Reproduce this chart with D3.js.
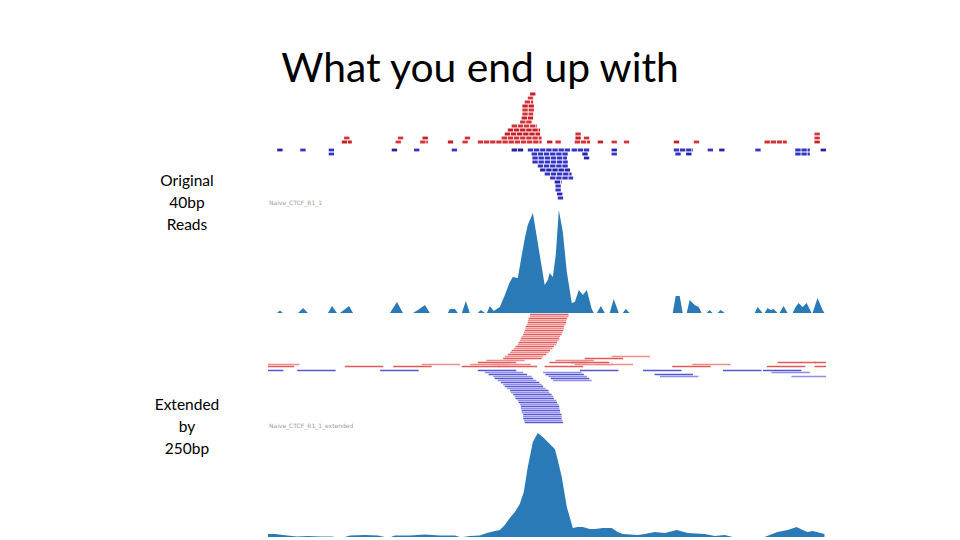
<!DOCTYPE html>
<html>
<head>
<meta charset="utf-8">
<script src="https://cdn.jsdelivr.net/npm/d3@7"></script>
<style>
  body { margin: 0; background: #fff; }
  svg { display: block; }
  .title { font-family: Lato, "Open Sans", sans-serif; font-size: 40.8px; fill: #000; }
  .side { font-family: Lato, "Open Sans", sans-serif; font-size: 15.5px; fill: #000; }
  .trackname { font-family: "DejaVu Sans", sans-serif; font-size: 6px; fill: #9a9a9a; }
  .coverage { fill: #2a7ab8; }
</style>
</head>
<body>
<div id="chart"></div>
<script>
// Genome browser snapshot: 40bp reads vs reads extended to 250bp
// positions are bp from the left edge of the window

var windowBp = [0, 3630];

var titleText = "What you end up with";
var sideLabels = [
    ["Original", "40bp", "Reads"],
    ["Extended", "by", "250bp"]
];
var trackNames = ["Naive_CTCF_R1_1", "Naive_CTCF_R1_1_extended"];

var readLen = 40;
var extLen = 250;

// original reads, packed runs [start, end, row]
var fwdRuns = [
    [480, 545, 0], [830, 870, 0], [990, 1040, 0], [1170, 1210, 0], [1265, 1300, 0],
    [1365, 1780, 0], [1815, 1855, 0], [1870, 1910, 0], [1995, 2095, 0], [2145, 2180, 0],
    [2235, 2270, 0], [2315, 2350, 0], [2640, 2675, 0], [2770, 2805, 0], [3230, 3375, 0],
    [3555, 3590, 0],
    [495, 535, 1], [845, 880, 1], [1005, 1040, 1], [1280, 1320, 1], [1520, 1780, 1],
    [2000, 2040, 1], [2055, 2095, 1], [3555, 3590, 1],
    [1540, 1770, 2], [2000, 2040, 2], [3555, 3590, 2],
    [1560, 1770, 3], [1585, 1750, 4], [1640, 1720, 5], [1650, 1725, 6], [1655, 1725, 7],
    [1655, 1735, 8], [1655, 1735, 9], [1670, 1725, 10], [1690, 1725, 11], [1705, 1745, 12]
];
var revRuns = [
    [60, 95, 0], [210, 245, 0], [395, 430, 0], [805, 840, 0], [950, 985, 0], [1195, 1230, 0],
    [1585, 1660, 0], [1690, 1965, 0], [1975, 2095, 0], [2235, 2270, 0], [2640, 2765, 0],
    [2860, 2895, 0], [2935, 2970, 0], [3170, 3205, 0], [3430, 3525, 0], [3595, 3630, 0],
    [395, 430, 1], [1715, 1950, 1], [2045, 2085, 1], [2235, 2270, 1], [2650, 2690, 1],
    [2720, 2760, 1], [3430, 3525, 1],
    [1720, 1945, 2], [2055, 2095, 2],
    [1720, 1950, 3], [1755, 1950, 4], [1770, 1965, 5], [1800, 1975, 6], [1835, 1985, 7],
    [1865, 1910, 8], [1870, 1910, 9], [1870, 1910, 10], [1880, 1920, 11], [1885, 1925, 12]
];

// extended reads [start, row]
var fwdExt = [
    [-80, 0], [-45, 1], [500, 0], [815, 0], [1000, 1], [1260, 0], [1315, 1],
    [1365, 2], [1420, 3], [1460, 1], [1500, 0], [1800, 0], [1830, 2], [1870, 3],
    [1970, 2], [1995, 1], [2060, 4], [2125, 1], [2235, 5],
    [2630, 0], [2760, 1], [3245, 0], [3315, 2], [3555, 0], [3555, 2],
    [1530, 4], [1540, 5], [1560, 6], [1575, 7], [1585, 8], [1600, 9], [1610, 10],
    [1625, 11], [1630, 12], [1640, 13], [1645, 14], [1650, 15], [1660, 16], [1665, 17],
    [1670, 18], [1675, 19], [1675, 20], [1685, 21], [1690, 22], [1690, 23], [1695, 24],
    [1705, 25], [1705, 26]
];
var revExt = [
    [-150, 0], [190, 0], [730, 0],
    [1365, 0], [1410, 1], [1435, 2], [1465, 3], [1475, 4], [1495, 5], [1515, 6],
    [1530, 7], [1540, 8], [1555, 9], [1575, 10], [1580, 11], [1595, 12], [1605, 13],
    [1610, 14], [1625, 15], [1630, 16], [1640, 17], [1645, 18], [1645, 19], [1650, 20],
    [1650, 21], [1660, 22], [1660, 23], [1660, 24], [1665, 25], [1670, 26],
    [1790, 1], [1805, 2], [1825, 3], [1840, 4], [1855, 5],
    [2030, 0], [2440, 0], [2515, 2], [2550, 3], [2960, 0], [3220, 0], [3275, 1], [3405, 3]
];

// coverage [bp, depth]
var covOrig = [
    [58, 0], [78, 1.25], [97, 0], [195, 0], [228, 2.5], [260, 0], [390, 0], [416, 3.5], [449, 0],
    [468, 0], [494, 1.5], [527, 3.5], [553, 0], [793, 0], [839, 5.5], [878, 0], [943, 0],
    [975, 1.5], [1021, 4], [1053, 0], [1170, 0], [1183, 2], [1216, 2], [1235, 0], [1261, 0],
    [1287, 6], [1313, 0], [1365, 0], [1385, 1.5], [1411, 0], [1424, 0], [1443, 3.5], [1469, 1],
    [1508, 3], [1541, 9], [1573, 15.5], [1593, 18], [1625, 17.5], [1651, 29], [1671, 37.5],
    [1690, 44], [1723, 50], [1736, 44], [1768, 29], [1800, 14], [1820, 16.5], [1833, 20],
    [1853, 18], [1872, 29], [1892, 51.5], [1918, 40.5], [1944, 20.5], [1976, 5], [1996, 5.5],
    [2022, 11.5], [2048, 9], [2074, 11.5], [2106, 2], [2119, 0], [2139, 0], [2165, 3.5],
    [2191, 0], [2223, 0], [2249, 7], [2282, 0], [2308, 0], [2327, 2], [2353, 0], [2633, 0],
    [2652, 8.5], [2678, 8.5], [2698, 0], [2724, 0], [2743, 6.5], [2776, 4], [2802, 3],
    [2821, 0], [2854, 0], [2873, 1.5], [2893, 0], [2925, 0], [2945, 1.5], [2971, 0],
    [3166, 0], [3185, 3], [3218, 0], [3231, 0], [3250, 2.5], [3269, 1.5], [3289, 2],
    [3315, 0], [3328, 0], [3354, 3.5], [3380, 0], [3413, 0], [3432, 3], [3452, 5], [3478, 3],
    [3504, 5], [3536, 0], [3543, 0], [3575, 7.5], [3608, 1.5], [3620, 0]
];
var covExt = [
    [0, 1.5], [46, 1.5], [98, 1], [156, 0.5], [189, 0.25], [260, 0.5], [338, 0.25], [416, 0.25],
    [436, 0], [500, 0], [533, 0.75], [631, 1], [715, 0.75], [760, 0], [800, 0], [826, 0.75],
    [923, 0.75], [1021, 1.25], [1118, 0.75], [1216, 0.75], [1248, 0], [1268, 0], [1313, 0.5],
    [1378, 0.75], [1424, 2], [1476, 3], [1508, 3.5], [1541, 6], [1573, 9.5], [1606, 12.5],
    [1638, 16.5], [1664, 22.5], [1690, 35], [1723, 47.5], [1755, 52], [1788, 50], [1820, 47.5],
    [1866, 44], [1885, 38.5], [1911, 30], [1944, 15], [1983, 4.5], [2015, 5], [2048, 5],
    [2093, 4], [2126, 4], [2178, 4.5], [2236, 4.5], [2275, 2.5], [2308, 1.5], [2405, 1],
    [2451, 1.5], [2516, 2.5], [2581, 2], [2659, 3.5], [2730, 2], [2841, 1.5], [2906, 0.5],
    [2971, 1], [3023, 0], [3231, 0], [3263, 1], [3315, 2.5], [3380, 3.5], [3439, 5],
    [3478, 3.5], [3510, 2.5], [3543, 3], [3569, 2.5], [3620, 1.5]
];

var width = 960, height = 540;

var svg = d3.select("#chart").append("svg")
    .attr("width", width)
    .attr("height", height);

// window clip
svg.append("clipPath").attr("id", "win")
    .append("rect")
    .attr("x", 268).attr("y", 0)
    .attr("width", 558).attr("height", height);

var x = d3.scaleLinear().domain(windowBp).range([268, 826]);

// row scales per track
var yFwd = d3.scaleLinear().domain([0, 12]).range([142, 94]);
var yRev = d3.scaleLinear().domain([0, 12]).range([150, 198]);
var yFwdExt = d3.scaleLinear().domain([0, 26]).range([366.5, 314.5]);
var yRevExt = d3.scaleLinear().domain([0, 26]).range([370.5, 422.5]);
var yCov1 = d3.scaleLinear().domain([0, 52]).range([313, 209]);
var yCov2 = d3.scaleLinear().domain([0, 52]).range([537, 433]);

// Title
svg.append("text")
    .attr("class", "title")
    .attr("x", 480)
    .attr("y", 82)
    .attr("text-anchor", "middle")
    .text(titleText);

// side labels
var sideTop = [186, 410];
sideLabels.forEach(function (lines, i) {
    lines.forEach(function (t, j) {
        svg.append("text")
            .attr("class", "side")
            .attr("x", 187)
            .attr("y", sideTop[i] + j * 22)
            .attr("text-anchor", "middle")
            .text(t);
    });
});

var g = svg.append("g").attr("clip-path", "url(#win)");

// track names
g.append("text").attr("class", "trackname")
    .attr("x", 269).attr("y", 205).text(trackNames[0]);
g.append("text").attr("class", "trackname")
    .attr("x", 269).attr("y", 428).text(trackNames[1]);

// original reads
var dash = (x(readLen) - x(0) - 0.8) + "," + 0.8;

g.selectAll(".fwd")
    .data(fwdRuns)
    .enter()
    .append("line")
    .attr("class", "fwd")
    .attr("x1", function (d) { return x(d[0]); })
    .attr("x2", function (d) { return x(d[1]); })
    .attr("y1", function (d) { return yFwd(d[2]); })
    .attr("y2", function (d) { return yFwd(d[2]); })
    .attr("stroke", function (d, i) { return i % 3 === 0 ? "#c42026" : "#d2343a"; })
    .attr("stroke-width", 2.8)
    .attr("stroke-dasharray", dash);

g.selectAll(".rev")
    .data(revRuns)
    .enter()
    .append("line")
    .attr("class", "rev")
    .attr("x1", function (d) { return x(d[0]); })
    .attr("x2", function (d) { return x(d[1]); })
    .attr("y1", function (d) { return yRev(d[2]); })
    .attr("y2", function (d) { return yRev(d[2]); })
    .attr("stroke", function (d, i) { return i % 3 === 0 ? "#2424a8" : "#3434c4"; })
    .attr("stroke-width", 2.8)
    .attr("stroke-dasharray", dash);

// coverage
function covArea(yScale) {
    return d3.area()
        .x(function (d) { return x(d[0]); })
        .y0(yScale(0))
        .y1(function (d) { return yScale(d[1]); });
}

g.append("path").attr("class", "coverage").attr("d", covArea(yCov1)(covOrig));
g.append("path").attr("class", "coverage").attr("d", covArea(yCov2)(covExt));

// extended reads
g.selectAll(".fwdExt")
    .data(fwdExt)
    .enter()
    .append("line")
    .attr("class", "fwdExt")
    .attr("x1", function (d) { return x(d[0]); })
    .attr("x2", function (d) { return x(d[0] + extLen); })
    .attr("y1", function (d) { return yFwdExt(d[1]); })
    .attr("y2", function (d) { return yFwdExt(d[1]); })
    .attr("stroke", function (d) { return d[1] % 2 ? "#f08c8c" : "#e25a5a"; })
    .attr("stroke-width", 1.6);

g.selectAll(".revExt")
    .data(revExt)
    .enter()
    .append("line")
    .attr("class", "revExt")
    .attr("x1", function (d) { return x(d[0]); })
    .attr("x2", function (d) { return x(d[0] + extLen); })
    .attr("y1", function (d) { return yRevExt(d[1]); })
    .attr("y2", function (d) { return yRevExt(d[1]); })
    .attr("stroke", function (d) { return d[1] % 2 ? "#8c8cec" : "#5656d4"; })
    .attr("stroke-width", 1.6);
</script>
</body>
</html>
